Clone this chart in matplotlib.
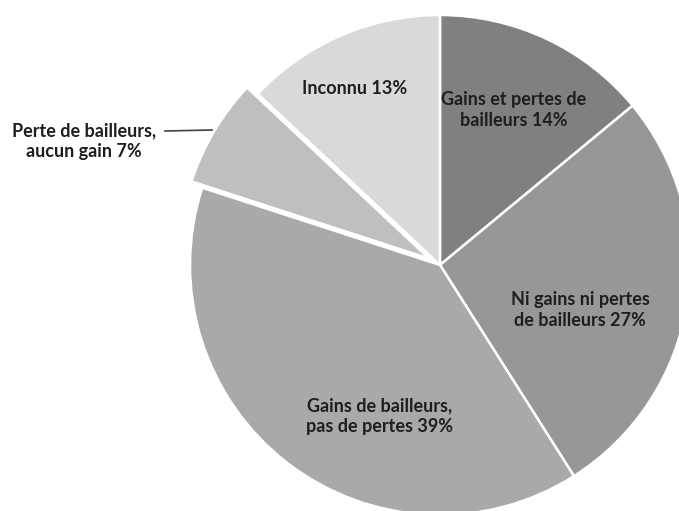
import matplotlib.pyplot as plt

# Slices, clockwise from 12 o'clock
labels = ['Gains et pertes de\nbailleurs 14%',
          'Ni gains ni pertes\nde bailleurs 27%',
          'Gains de bailleurs,\npas de pertes 39%',
          'Perte de bailleurs,\naucun gain 7%',
          'Inconnu 13%']
shares = [14, 27, 39, 7, 13]
colors = ['#808080', '#979797', '#a9a9a9', '#bfbfbf', '#d9d9d9']
explode = [0, 0, 0, 0.05, 0]

plt.rcParams['font.family'] = ['Lato', 'DejaVu Sans']

fig = plt.figure(figsize=(6.79, 5.11), dpi=100)
ax = fig.add_axes([0, 0, 1, 1])

W, H = 679, 511
cx, cy, r = 440, H - 265, 250

# explode is a fraction of the radius, but pie() takes it in data units here
ax.pie(shares, colors=colors, explode=[e * r for e in explode], startangle=90,
       counterclock=False, center=(cx, cy), radius=r,
       wedgeprops=dict(edgecolor='white', linewidth=1.8))

ax.set_xlim(0, W)
ax.set_ylim(0, H)
ax.set_aspect('equal')
ax.axis('off')

# label positions in pixels from the top-left corner
label_pos = [(514, 110), (580, 310), (380, 416), (84, 141), (355, 88)]
for text, (x, y) in zip(labels, label_pos):
    ax.text(x, H - y, text, ha='center', va='center', fontsize=13,
            fontweight='bold', color='#1e1e1e', linespacing=1.3)

# leader line for the small slice
ax.plot([165, 212], [H - 131, H - 130], color='#404040', lw=1.2)

fig.savefig('out.png', dpi=100)
